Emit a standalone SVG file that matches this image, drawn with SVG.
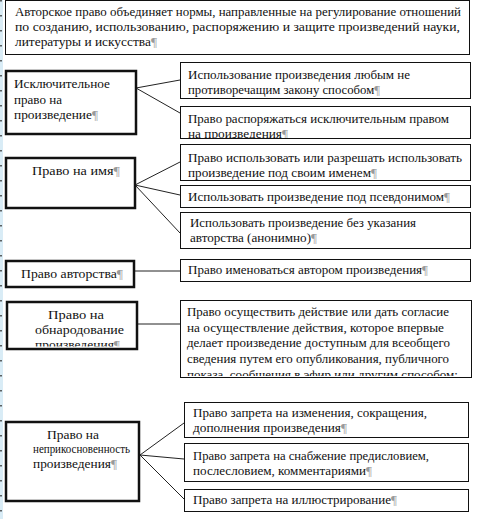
<svg xmlns="http://www.w3.org/2000/svg" width="479" height="519" viewBox="0 0 479 519">
<style>
text{font-family:"Liberation Serif","Times New Roman",serif;font-size:12.5px;fill:#111}
.p{fill:#9a9a9a}
.thin{fill:#fff;stroke:#111;stroke-width:1}
.thick{fill:#fff;stroke:#111;stroke-width:2.5}
.con line{stroke:#222;stroke-width:1}
</style>
<defs>
<clipPath id="c1b"><rect x="180" y="107" width="291" height="31"/></clipPath>
<clipPath id="c4l"><rect x="7" y="302" width="130" height="44.5"/></clipPath>
<clipPath id="c4r"><rect x="180" y="300" width="292" height="76"/></clipPath>
</defs>
<rect x="0" y="0" width="479" height="519" fill="#fff"/>
<g id="margin">
<rect x="0" y="0" width="3" height="519" fill="#d9ecf6"/>
<line x1="1" y1="0" x2="1" y2="519" stroke="#333" stroke-width="1.5" stroke-dasharray="1.5 13.5"/>
</g>
<g class="con" id="connectors">
<line x1="136" y1="88" x2="180" y2="80"/>
<line x1="136" y1="88" x2="180" y2="113"/>
<line x1="135" y1="185" x2="180" y2="162"/>
<line x1="135" y1="185" x2="180" y2="195"/>
<line x1="135" y1="185" x2="180" y2="233"/>
<line x1="134" y1="271" x2="180" y2="271"/>
<line x1="137" y1="324" x2="180" y2="324"/>
<line x1="140" y1="455" x2="184" y2="423"/>
<line x1="140" y1="455" x2="184" y2="459"/>
<line x1="140" y1="455" x2="184" y2="499"/>
</g>
<g id="top">
<rect class="thin" x="5.5" y="0.5" width="464" height="54"/>
<text x="15" y="16" textLength="446" lengthAdjust="spacingAndGlyphs">Авторское право объединяет нормы, направленные на регулирование отношений</text>
<text x="15" y="30.5" textLength="445" lengthAdjust="spacingAndGlyphs">по  созданию,  использованию,  распоряжению  и  защите  произведений  науки,</text>
<text x="15" y="46" textLength="142" lengthAdjust="spacingAndGlyphs">литературы и искусства<tspan class="p">¶</tspan></text>
</g>
<g id="n1">
<rect class="thick" x="6" y="71" width="130" height="63"/>
<text x="14" y="87.5" textLength="96" lengthAdjust="spacingAndGlyphs">Исключительное</text>
<text x="14" y="103.5" textLength="48" lengthAdjust="spacingAndGlyphs">право на</text>
<text x="14" y="119" textLength="84" lengthAdjust="spacingAndGlyphs">произведение<tspan class="p">¶</tspan></text>
</g>
<g id="n1a">
<rect class="thin" x="180.5" y="62.5" width="290" height="36"/>
<text x="188" y="78.5" textLength="222" lengthAdjust="spacingAndGlyphs">Использование произведения любым не</text>
<text x="188" y="93.5" textLength="192" lengthAdjust="spacingAndGlyphs">противоречащим закону способом<tspan class="p">¶</tspan></text>
</g>
<g id="n1b">
<rect class="thin" x="180.5" y="106.5" width="290" height="32"/>
<g clip-path="url(#c1b)">
<text x="188" y="123" textLength="261" lengthAdjust="spacingAndGlyphs">Право распоряжаться исключительным правом</text>
<text x="188" y="138" textLength="100" lengthAdjust="spacingAndGlyphs">на произведения<tspan class="p">¶</tspan></text>
</g>
</g>
<g id="n2">
<rect class="thick" x="6" y="158" width="129" height="50"/>
<text x="32" y="175" textLength="88" lengthAdjust="spacingAndGlyphs">Право на имя<tspan class="p">¶</tspan></text>
</g>
<g id="n2a">
<rect class="thin" x="180.5" y="144.5" width="290" height="36"/>
<text x="188" y="161.5" textLength="274" lengthAdjust="spacingAndGlyphs">Право использовать или разрешать использовать</text>
<text x="188" y="176.5" textLength="189" lengthAdjust="spacingAndGlyphs">произведение под своим именем<tspan class="p">¶</tspan></text>
</g>
<g id="n2b">
<rect class="thin" x="180.5" y="185.5" width="290" height="22"/>
<text x="188" y="201" textLength="262" lengthAdjust="spacingAndGlyphs">Использовать произведение под псевдонимом<tspan class="p">¶</tspan></text>
</g>
<g id="n2c">
<rect class="thin" x="180.5" y="212.5" width="290" height="36"/>
<text x="190" y="226.5" textLength="226" lengthAdjust="spacingAndGlyphs">Использовать произведение без указания</text>
<text x="190" y="242" textLength="127" lengthAdjust="spacingAndGlyphs">авторства (анонимно)<tspan class="p">¶</tspan></text>
</g>
<g id="n3">
<rect class="thick" x="6" y="261" width="128" height="26"/>
<text x="21" y="278" textLength="102" lengthAdjust="spacingAndGlyphs">Право авторства<tspan class="p">¶</tspan></text>
</g>
<g id="n3a">
<rect class="thin" x="180.5" y="259.5" width="290" height="22"/>
<text x="188" y="274" textLength="240" lengthAdjust="spacingAndGlyphs">Право именоваться автором произведения<tspan class="p">¶</tspan></text>
</g>
<g id="n4">
<rect class="thick" x="7" y="302" width="130" height="47"/>
<g clip-path="url(#c4l)">
<text x="48" y="319" textLength="56" lengthAdjust="spacingAndGlyphs">Право на</text>
<text x="35" y="334" textLength="89" lengthAdjust="spacingAndGlyphs">обнародование</text>
<text x="35" y="349" textLength="85" lengthAdjust="spacingAndGlyphs">произведения<tspan class="p">¶</tspan></text>
</g>
</g>
<g id="n4a">
<rect class="thin" x="180.5" y="300.5" width="291" height="77"/>
<g clip-path="url(#c4r)">
<text x="187" y="316" textLength="262" lengthAdjust="spacingAndGlyphs">Право осуществить действие или дать согласие</text>
<text x="187" y="331.5" textLength="257" lengthAdjust="spacingAndGlyphs">на осуществление действия, которое впервые</text>
<text x="187" y="347" textLength="263" lengthAdjust="spacingAndGlyphs">делает произведение доступным для всеобщего</text>
<text x="187" y="362.5" textLength="262" lengthAdjust="spacingAndGlyphs">сведения путем его опубликования, публичного</text>
<text x="187" y="378.5" textLength="271" lengthAdjust="spacingAndGlyphs">показа, сообщения в эфир или другим способом;</text>
</g>
</g>
<g id="n5">
<rect class="thick" x="6" y="422" width="133" height="79"/>
<text x="47" y="439" textLength="52" lengthAdjust="spacingAndGlyphs">Право на</text>
<text x="33" y="453" textLength="97" lengthAdjust="spacingAndGlyphs">неприкосновенность</text>
<text x="33" y="468" textLength="84" lengthAdjust="spacingAndGlyphs">произведения<tspan class="p">¶</tspan></text>
</g>
<g id="n5a">
<rect class="thin" x="184.5" y="402.5" width="284" height="35"/>
<text x="193" y="417" textLength="234" lengthAdjust="spacingAndGlyphs">Право запрета на изменения, сокращения,</text>
<text x="193" y="432" textLength="154" lengthAdjust="spacingAndGlyphs">дополнения произведения<tspan class="p">¶</tspan></text>
</g>
<g id="n5b">
<rect class="thin" x="184.5" y="443.5" width="284" height="38"/>
<text x="193" y="460" textLength="236" lengthAdjust="spacingAndGlyphs">Право запрета на снабжение предисловием,</text>
<text x="193" y="474.5" textLength="179" lengthAdjust="spacingAndGlyphs">послесловием, комментариями<tspan class="p">¶</tspan></text>
</g>
<g id="n5c">
<rect class="thin" x="184.5" y="489.5" width="284" height="22"/>
<text x="193" y="504" textLength="204" lengthAdjust="spacingAndGlyphs">Право запрета на иллюстрирование<tspan class="p">¶</tspan></text>
</g>
</svg>
